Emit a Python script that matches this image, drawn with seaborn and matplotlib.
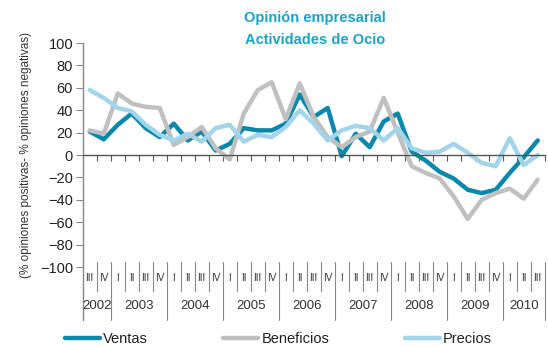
import matplotlib
matplotlib.use("Agg")
import matplotlib.pyplot as plt
from matplotlib.lines import Line2D
import seaborn as sns
import pandas as pd

# Quarterly periods: 2002 III .. 2010 III
years = ["2002", "2003", "2004", "2005", "2006", "2007", "2008", "2009", "2010"]
quarters_per_year = [2, 4, 4, 4, 4, 4, 4, 4, 3]
first_quarter = [3, 1, 1, 1, 1, 1, 1, 1, 1]
roman = ["I", "II", "III", "IV"]

ventas = [21, 14, 27, 37, 24, 16, 28, 13, 21, 4, 10, 24, 22, 22, 28, 54, 34,
          42, -1, 19, 7, 30, 37, 3, -5, -15, -21, -31, -34, -31, -16, -2, 13]
beneficios = [22, 19, 55, 46, 43, 42, 9, 16, 25, 6, -4, 37, 58, 65, 32, 64, 34,
              16, 7, 16, 21, 51, 20, -10, -16, -21, -37, -57, -40, -34, -30, -39, -22]
precios = [58, 51, 42, 39, 27, 18, 13, 19, 12, 24, 27, 12, 18, 16, 25, 40, 28,
           13, 22, 26, 24, 13, 24, 6, 2, 3, 10, 2, -7, -10, 15, -9, 0]

series_names = ["Ventas", "Beneficios", "Precios"]
palette = {"Ventas": "#0a88ab", "Beneficios": "#c0c0c0", "Precios": "#a3d5ea"}

n = len(ventas)
pos = [i + 0.5 for i in range(n)]
df = pd.DataFrame({
    "pos": pos * 3,
    "valor": ventas + beneficios + precios,
    "serie": [s for s in series_names for _ in range(n)],
})

sns.set_theme(style="white")
plt.rcParams["font.family"] = ["Liberation Sans", "DejaVu Sans"]

fig = plt.figure(figsize=(5.48, 3.47), dpi=100)
ax = fig.add_axes([0.151, 0.2305, 0.843, 0.6455])

sns.lineplot(data=df, x="pos", y="valor", hue="serie", hue_order=series_names,
             palette=palette, linewidth=3.2, ax=ax, legend=False,
             solid_capstyle="round", solid_joinstyle="round")

ax.set_xlim(0, n)
ax.set_ylim(-100, 100)
ax.set_yticks(range(-100, 101, 20))
ax.set_xticks(range(0, n + 1))
ax.set_xticklabels([])
ax.set_xlabel("")
ax.set_ylabel("(% opiniones positivas- % opiniones negativas)", fontsize=8.5,
              color="#333333", labelpad=6)

for s in ["top", "right"]:
    ax.spines[s].set_visible(False)
ax.spines["bottom"].set_position(("data", 0))
ax.spines["bottom"].set_color("#555555")
ax.spines["bottom"].set_linewidth(1.0)
ax.spines["left"].set_color("#888888")
ax.spines["left"].set_linewidth(1.0)
ax.tick_params(axis="x", direction="out", length=4, width=0.8, color="#555555",
               bottom=True)
ax.tick_params(axis="y", direction="out", length=5, width=0.8, color="#888888",
               left=True, labelsize=10.5, labelcolor="#222222", pad=2)

# Category axis drawn below the plot: quarters and years
tr = ax.get_xaxis_transform()
ax.add_line(Line2D([0, 0], [0, -0.237], transform=tr, color="#888888",
                   linewidth=1.0, clip_on=False))
k = 0
for y, nq, fq in zip(years, quarters_per_year, first_quarter):
    start = k
    for j in range(nq):
        ax.text(k + 0.5, -0.05, roman[fq - 1 + j], transform=tr, ha="center",
                va="center", fontsize=7.2, color="#333333")
        k += 1
        if j < nq - 1:
            ax.add_line(Line2D([k, k], [0.022, -0.105], transform=tr,
                               color="#888888", linewidth=0.8, clip_on=False))
    ax.add_line(Line2D([k, k], [0.022, -0.237], transform=tr, color="#888888",
                       linewidth=0.8, clip_on=False))
    ax.text((start + k) / 2, -0.175, y, transform=tr, ha="center", va="center",
            fontsize=9.5, color="#333333")

fig.text(0.575, 0.948, "Opinión empresarial", ha="center", va="center",
         fontsize=10.5, fontweight="bold", color="#1aa3cc")
fig.text(0.575, 0.885, "Actividades de Ocio", ha="center", va="center",
         fontsize=10.5, fontweight="bold", color="#1aa3cc")

handles = [Line2D([], [], color=palette[s], linewidth=3.2, solid_capstyle="round")
           for s in series_names]
fig.legend(handles, series_names, loc="center", bbox_to_anchor=(0.508, 0.022),
           ncol=3, frameon=False, fontsize=10.5, handlelength=2.4,
           handletextpad=0.2, columnspacing=5.2, labelcolor="#222222")

fig.savefig("out.png", dpi=100)
